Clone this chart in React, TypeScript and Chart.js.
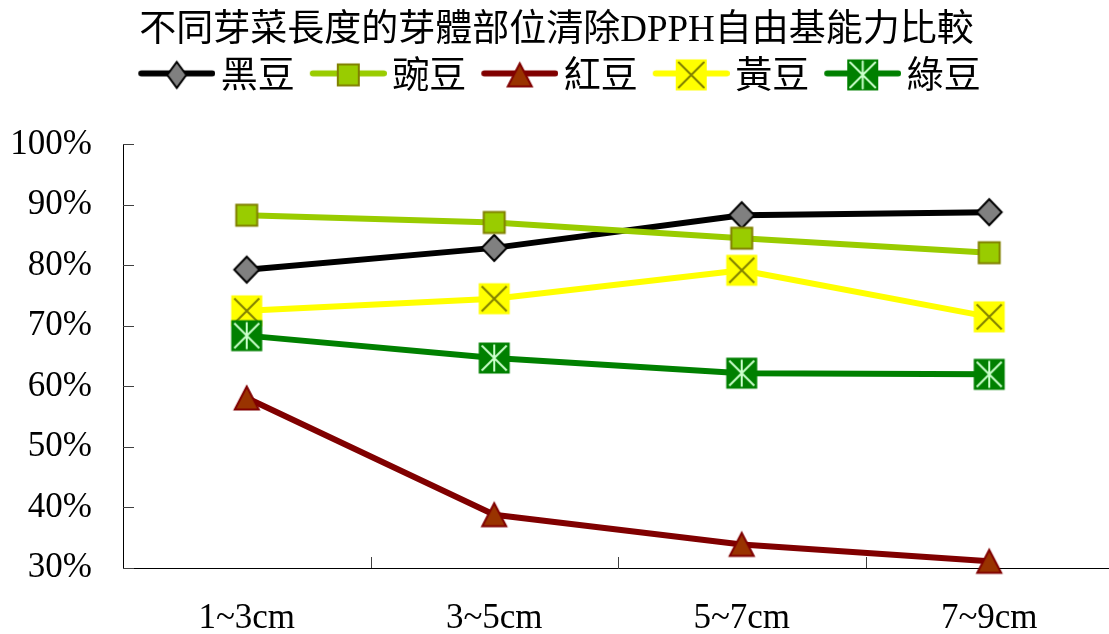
import React, { useEffect, useRef } from "react";
import { Chart, registerables } from "chart.js";

Chart.register(...registerables);

// ---- data ----
const categories = ["1~3cm", "3~5cm", "5~7cm", "7~9cm"];
const seriesNames = ["黑豆", "豌豆", "紅豆", "黃豆", "綠豆"];
const blackBean = [79.3, 82.9, 88.3, 88.8];
const pea = [88.3, 87.1, 84.5, 82.1];
const redBean = [58.1, 38.8, 33.9, 31.1];
const soybean = [72.5, 74.5, 79.2, 71.5];
const mungBean = [68.4, 64.7, 62.2, 62.0];
const yTickValues = [30, 40, 50, 60, 70, 80, 90, 100];
const chartTitle = "不同芽菜長度的芽體部位清除DPPH自由基能力比較";

const CJK_FONT = '"Liberation Serif", "Noto Sans CJK TC", serif';
const NUM_FONT = '"Liberation Serif", serif';

type MarkerKind = "diamond" | "square" | "triangle" | "cross" | "star";

// Draws one marker symbol centred at (cx, cy) on a 2D context.
function paintMarker(ctx: CanvasRenderingContext2D, kind: MarkerKind, cx: number, cy: number, narrow = false) {
  ctx.save();
  if (kind === "diamond") {
    const hw = narrow ? 9.5 : 12.5;
    const hh = 13;
    ctx.beginPath();
    ctx.moveTo(cx, cy - hh);
    ctx.lineTo(cx + hw, cy);
    ctx.lineTo(cx, cy + hh);
    ctx.lineTo(cx - hw, cy);
    ctx.closePath();
    ctx.fillStyle = "#808080";
    ctx.fill();
    ctx.lineWidth = 2;
    ctx.strokeStyle = "#000000";
    ctx.lineJoin = "miter";
    ctx.stroke();
  } else if (kind === "square") {
    const h = 10.5;
    ctx.fillStyle = "#99CC00";
    ctx.fillRect(cx - h, cy - h, 2 * h, 2 * h);
    ctx.lineWidth = 2;
    ctx.strokeStyle = "#808000";
    ctx.strokeRect(cx - h, cy - h, 2 * h, 2 * h);
  } else if (kind === "triangle") {
    const hw = 12;
    const hh = 11.5;
    ctx.beginPath();
    ctx.moveTo(cx, cy - hh);
    ctx.lineTo(cx + hw, cy + hh);
    ctx.lineTo(cx - hw, cy + hh);
    ctx.closePath();
    ctx.fillStyle = "#993300";
    ctx.fill();
    ctx.lineWidth = 2;
    ctx.lineJoin = "miter";
    ctx.strokeStyle = "#800000";
    ctx.stroke();
  } else if (kind === "cross") {
    const h = 15.5;
    const i = 12.5;
    ctx.fillStyle = "#FFFF00";
    ctx.fillRect(cx - h, cy - h, 2 * h, 2 * h);
    ctx.strokeStyle = "#808000";
    ctx.lineWidth = 2;
    ctx.beginPath();
    ctx.moveTo(cx - i, cy - i);
    ctx.lineTo(cx + i, cy + i);
    ctx.moveTo(cx + i, cy - i);
    ctx.lineTo(cx - i, cy + i);
    ctx.stroke();
  } else {
    const h = 15.5;
    const i = 12.5;
    ctx.fillStyle = "#008000";
    ctx.fillRect(cx - h, cy - h, 2 * h, 2 * h);
    ctx.strokeStyle = "#CCFFCC";
    ctx.lineWidth = 2;
    ctx.beginPath();
    ctx.moveTo(cx - i, cy - i);
    ctx.lineTo(cx + i, cy + i);
    ctx.moveTo(cx + i, cy - i);
    ctx.lineTo(cx - i, cy + i);
    ctx.moveTo(cx, cy - 13.5);
    ctx.lineTo(cx, cy + 13.5);
    ctx.stroke();
  }
  ctx.restore();
}

function makeMarker(kind: MarkerKind): HTMLCanvasElement {
  const c = document.createElement("canvas");
  c.width = 34;
  c.height = 34;
  const ctx = c.getContext("2d")!;
  paintMarker(ctx, kind, 17, 17);
  return c;
}

// Legend swatch: a short line with the marker in the middle.
const SWATCH_W = 96;
const SWATCH_H = 48;
function makeSwatch(kind: MarkerKind, color: string): HTMLCanvasElement {
  const c = document.createElement("canvas");
  c.width = SWATCH_W;
  c.height = SWATCH_H;
  const ctx = c.getContext("2d")!;
  const lineY = SWATCH_H / 2 - 4.5;
  const x0 = 22;
  const x1 = 93;
  ctx.strokeStyle = color;
  ctx.lineWidth = 6;
  ctx.lineCap = "round";
  ctx.beginPath();
  ctx.moveTo(x0, lineY);
  ctx.lineTo(x1, lineY);
  ctx.stroke();
  paintMarker(ctx, kind, (x0 + x1) / 2, SWATCH_H / 2 - 3, true);
  return c;
}

const seriesStyles: { kind: MarkerKind; color: string }[] = [
  { kind: "diamond", color: "#000000" },
  { kind: "square", color: "#99CC00" },
  { kind: "triangle", color: "#800000" },
  { kind: "cross", color: "#FFFF00" },
  { kind: "star", color: "#008000" },
];

// Short tick marks pointing into the plot area.
const innerTicks = {
  id: "innerTicks",
  beforeDatasetsDraw(chart: any) {
    const { ctx, chartArea, scales } = chart;
    const x = scales.x;
    const y = scales.y;
    ctx.save();
    ctx.strokeStyle = "#404040";
    ctx.lineWidth = 1;
    ctx.beginPath();
    y.ticks.forEach((_: any, i: number) => {
      const py = Math.round(y.getPixelForTick(i)) + 0.5;
      ctx.moveTo(chartArea.left, py);
      ctx.lineTo(chartArea.left + 11, py);
    });
    const step = x.getPixelForValue(1) - x.getPixelForValue(0);
    for (let k = 1; k <= categories.length; k++) {
      const px = Math.round(chartArea.left + k * step) + 0.5;
      ctx.moveTo(px, chartArea.bottom);
      ctx.lineTo(px, chartArea.bottom - 11);
    }
    ctx.stroke();
    ctx.restore();
  },
};

export default function App() {
  const ref = useRef<HTMLCanvasElement | null>(null);

  useEffect(() => {
    if (!ref.current) return;
    const values = [blackBean, pea, redBean, soybean, mungBean];
    const swatches = seriesStyles.map((s) => makeSwatch(s.kind, s.color));
    const datasets = values.map((data, i) => ({
      label: seriesNames[i],
      data,
      borderColor: seriesStyles[i].color,
      backgroundColor: seriesStyles[i].color,
      borderWidth: 6,
      borderJoinStyle: "round" as const,
      tension: 0,
      fill: false,
      pointStyle: makeMarker(seriesStyles[i].kind),
      pointRadius: 12,
      pointHoverRadius: 12,
      clip: false as const,
      order: values.length - i,
    }));

    const chart = new Chart(ref.current, {
      type: "line",
      data: { labels: categories, datasets },
      plugins: [innerTicks],
      options: {
        responsive: false,
        animation: false,
        events: [],
        layout: { autoPadding: false, padding: { left: 0, right: 3, top: 0, bottom: 0 } },
        plugins: {
          title: {
            display: true,
            text: chartTitle,
            color: "#000000",
            font: { family: CJK_FONT, size: 37, weight: "normal" },
            padding: { top: 9, bottom: -3 },
          },
          subtitle: {
            display: true,
            position: "top",
            weight: 500,
            text: " ",
            font: { size: 10, lineHeight: 1 },
            padding: { top: 28, bottom: 0 },
          },
          legend: {
            display: true,
            position: "top",
            labels: {
              usePointStyle: true,
              pointStyleWidth: 70,
              padding: 9,
              color: "#000000",
              font: { family: CJK_FONT, size: 37 },
              generateLabels: () =>
                seriesNames.map((name, i) => ({
                  text: name,
                  pointStyle: swatches[i],
                  fillStyle: seriesStyles[i].color,
                  strokeStyle: seriesStyles[i].color,
                  lineWidth: 0,
                  hidden: false,
                  datasetIndex: i,
                  fontColor: "#000000",
                })),
            },
          },
          tooltip: { enabled: false },
        },
        scales: {
          x: {
            type: "category",
            offset: true,
            grid: { display: true, drawOnChartArea: false, drawTicks: false },
            border: { display: true, color: "#000000", width: 1 },
            ticks: {
              color: "#000000",
              padding: 30,
              font: { family: NUM_FONT, size: 35 },
              maxRotation: 0,
            },
            afterFit: (scale: any) => {
              scale.height = 66;
              scale.paddingLeft = 0;
              scale.paddingRight = 0;
            },
          },
          y: {
            min: 30,
            max: 100,
            afterBuildTicks: (scale: any) => {
              scale.ticks = yTickValues.map((v) => ({ value: v }));
            },
            grid: { display: true, drawOnChartArea: false, drawTicks: false },
            border: { display: true, color: "#000000", width: 1 },
            ticks: {
              color: "#000000",
              padding: 31,
              font: { family: NUM_FONT, size: 35 },
              callback: (v: any) => `${v}%`,
            },
            afterFit: (scale: any) => {
              scale.width = 123;
            },
          },
        },
      },
    } as any);

    return () => chart.destroy();
  }, []);

  return (
    <div
      style={{
        position: "fixed",
        left: 0,
        top: 0,
        width: 1109,
        height: 634,
        overflow: "hidden",
        background: "#ffffff",
      }}
    >
      <canvas ref={ref} width={1116} height={634} style={{ display: "block" }} />
    </div>
  );
}
